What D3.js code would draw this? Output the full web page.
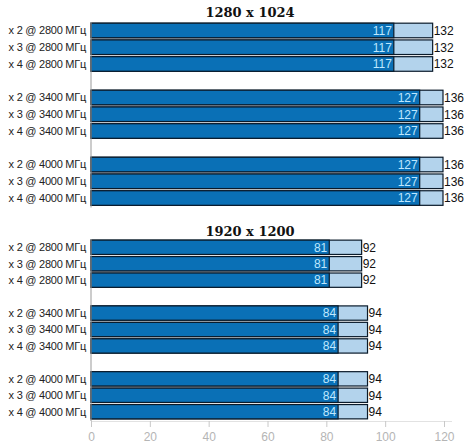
<!DOCTYPE html>
<html>
<head>
<meta charset="utf-8">
<script src="https://cdn.jsdelivr.net/npm/d3@7"></script>
<style>
  body { margin: 0; background: #fff; }
  svg { display: block; }
</style>
</head>
<body>
<div class="chart"></div>
<script>
var rows = [
  "x 2 @ 2800 МГц", "x 3 @ 2800 МГц", "x 4 @ 2800 МГц", "",
  "x 2 @ 3400 МГц", "x 3 @ 3400 МГц", "x 4 @ 3400 МГц", " ",
  "x 2 @ 4000 МГц", "x 3 @ 4000 МГц", "x 4 @ 4000 МГц"
];
var titles = ["1280 x 1024", "1920 x 1200"];
var minTop = [117, 117, 117, null, 127, 127, 127, null, 127, 127, 127];
var avgTop = [132, 132, 132, null, 136, 136, 136, null, 136, 136, 136];
var minBottom = [81, 81, 81, null, 84, 84, 84, null, 84, 84, 84];
var avgBottom = [92, 92, 92, null, 94, 94, 94, null, 94, 94, 94];
var ticks = [0, 20, 40, 60, 80, 100, 120];

var width = 472, height = 443;
var left = 91;

var svg = d3.select('.chart')
  .append('svg')
  .attr("width", width)
  .attr("height", height);

var xTop = d3.scaleLinear().domain([0, 136]).range([left, 443]);
var xBottom = d3.scaleLinear().domain([0, 120]).range([left, 444]);

var keys = rows.map(function (d, i) { return "r" + i; });

var panels = [
  { title: titles[0], min: minTop, avg: avgTop, x: xTop, y0: 21, y1: 207.5, ty: 17 },
  { title: titles[1], min: minBottom, avg: avgBottom, x: xBottom, y0: 238, y1: 421, ty: 236 }
];

panels.forEach(function (p) {
  var y = d3.scaleBand().domain(keys).range([p.y0, p.y1]).padding(0.13);
  var g = svg.append("g");

  g.append("text")
    .attr("x", 250)
    .attr("y", p.ty)
    .attr("text-anchor", "middle")
    .style("font", "bold 13px 'DejaVu Serif', serif")
    .style("fill", "#111")
    .text(p.title);

  var data = rows.map(function (r, i) {
    return { label: r, key: keys[i], min: p.min[i], avg: p.avg[i] };
  });

  g.selectAll(".label")
    .data(data.filter(function (d) { return d.min !== null; }))
    .enter().append("text")
    .attr("x", 86)
    .attr("y", function (d) { return y(d.key) + y.bandwidth() / 2; })
    .attr("dy", "0.35em")
    .attr("text-anchor", "end")
    .style("font", "11px 'Liberation Sans', sans-serif")
    .style("letter-spacing", "-0.25px")
    .style("fill", "#222")
    .text(function (d) { return d.label; });

  var bars = g.selectAll(".bar")
    .data(data.filter(function (d) { return d.min !== null; }))
    .enter().append("g");

  bars.append("rect")
    .attr("x", p.x(0))
    .attr("y", function (d) { return y(d.key); })
    .attr("width", function (d) { return p.x(d.avg) - p.x(0); })
    .attr("height", y.bandwidth())
    .style("fill", "#b3d3ec")
    .style("stroke", "#0a1a2a")
    .style("stroke-width", 1.2);

  bars.append("rect")
    .attr("x", p.x(0))
    .attr("y", function (d) { return y(d.key); })
    .attr("width", function (d) { return p.x(d.min) - p.x(0); })
    .attr("height", y.bandwidth())
    .style("fill", "#0a70b6")
    .style("stroke", "#0a1a2a")
    .style("stroke-width", 1.2);

  bars.append("text")
    .attr("x", function (d) { return p.x(d.min) - 2; })
    .attr("y", function (d) { return y(d.key) + y.bandwidth() / 2; })
    .attr("dy", "0.36em")
    .attr("text-anchor", "end")
    .style("font", "12px 'Liberation Sans', sans-serif")
    .style("fill", "#bfe8ff")
    .text(function (d) { return d.min; });

  bars.append("text")
    .attr("x", function (d) { return p.x(d.avg) + 1; })
    .attr("y", function (d) { return y(d.key) + y.bandwidth() / 2; })
    .attr("dy", "0.36em")
    .style("font", "12px 'Liberation Sans', sans-serif")
    .style("fill", "#111")
    .text(function (d) { return d.avg; });

  g.append("line")
    .attr("x1", left).attr("x2", left)
    .attr("y1", p.y0 + 1).attr("y2", p.y1)
    .style("stroke", "#999")
    .style("stroke-width", 1);
});

var axis = svg.append("g")
  .attr("transform", "translate(0,421)")
  .call(d3.axisBottom(xBottom).tickValues(ticks).tickSize(6).tickPadding(5));

axis.select(".domain").remove();
axis.insert("line", ":first-child")
  .attr("x1", left).attr("x2", 452)
  .attr("y1", 0.5).attr("y2", 0.5)
  .style("stroke", "#e2e2e2");
axis.selectAll(".tick line").style("stroke", "#c8c8c8");
axis.selectAll(".tick text")
  .style("font", "12px 'Liberation Sans', sans-serif")
  .style("fill", "#b5b5b5");
</script>
</body>
</html>
